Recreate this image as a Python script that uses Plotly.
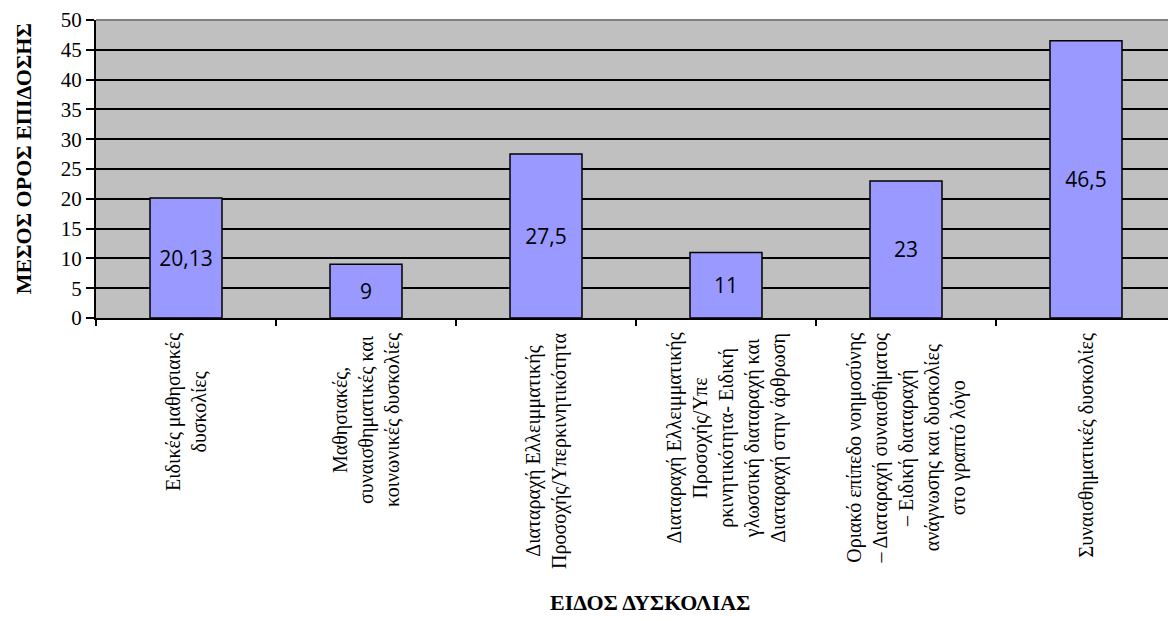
import plotly.graph_objects as go

categories = [
    "Ειδικές μαθησιακές<br>δυσκολίες",
    "Μαθησιακές,<br>συναισθηματικές και<br>κοινωνικές δυσκολίες",
    "Διαταραχή Ελλειμματικής<br>Προσοχής/Υπερκινητικότητα",
    "Διαταραχή Ελλειμματικής<br>Προσοχής/Υπε<br>ρκινητικότητα- Ειδική<br>γλωσσική διαταραχή και<br>Διαταραχή στην άρθρωση",
    "Οριακό επίπεδο νοημοσύνης<br>– Διαταραχή συναισθήματος<br>– Ειδική διαταραχή<br>ανάγνωσης και δυσκολίες<br>στο γραπτό λόγο",
    "Συναισθηματικές δυσκολίες",
]
values = [20.13, 9, 27.5, 11, 23, 46.5]
y_ticks = [0, 5, 10, 15, 20, 25, 30, 35, 40, 45, 50]
x_title = "ΕΙΔΟΣ ΔΥΣΚΟΛΙΑΣ"
y_title = "ΜΕΣΟΣ ΟΡΟΣ ΕΠΙΔΟΣΗΣ"


def fmt(v):
    s = ("%g" % v)
    return s.replace(".", ",")


serif = "Liberation Serif"

fig = go.Figure()
fig.add_trace(go.Bar(
    x=categories,
    y=values,
    text=[fmt(v) for v in values],
    textposition="inside",
    insidetextanchor="middle",
    textangle=0,
    constraintext="none",
    textfont=dict(family="Open Sans", size=21, color="black"),
    marker=dict(color="#9999FF", line=dict(color="black", width=1.5)),
    hoverinfo="skip",
))

for c in categories:
    fig.add_annotation(
        x=c, y=0, xref="x", yref="y",
        text=c, showarrow=False,
        textangle=-90, xanchor="center", yanchor="top",
        yshift=-13, align="center",
        font=dict(family=serif, size=20, color="black"),
    )

fig.add_annotation(
    x=0.513, y=-0.955, xref="paper", yref="paper",
    text="<b>" + x_title + "</b>", showarrow=False,
    xanchor="center", yanchor="middle",
    font=dict(family=serif, size=22, color="black"),
)
fig.add_annotation(
    x=-0.067, y=0.535, xref="paper", yref="paper",
    text="<b>" + y_title + "</b>", showarrow=False, textangle=-90,
    xanchor="center", yanchor="middle",
    font=dict(family=serif, size=22, color="black"),
)

fig.add_shape(type="line", xref="paper", yref="paper", x0=0, x1=1, y0=1, y1=1,
              line=dict(color="#808080", width=2), layer="above")

fig.update_layout(
    width=1168, height=613,
    margin=dict(l=88, r=0, t=9, b=303),
    paper_bgcolor="white",
    plot_bgcolor="#C0C0C0",
    bargap=0.6,
    showlegend=False,
    font=dict(family=serif),
    xaxis=dict(
        type="category",
        tickson="boundaries",
        ticks="outside", ticklen=6, tickwidth=1.5, tickcolor="black",
        showticklabels=False,
        showgrid=False,
        showline=True, linecolor="black", linewidth=2,
        fixedrange=True,
    ),
    yaxis=dict(
        range=[0, 50],
        tickvals=y_ticks,
        ticks="outside", ticklen=8, tickwidth=2, tickcolor="black",
        tickfont=dict(family=serif, size=21, color="black"),
        ticklabeloverflow="allow",
        showgrid=True, gridcolor="black", gridwidth=2,
        zeroline=False,
        showline=True, linecolor="black", linewidth=2,
        fixedrange=True,
    ),
)

fig.write_html("out.html")
